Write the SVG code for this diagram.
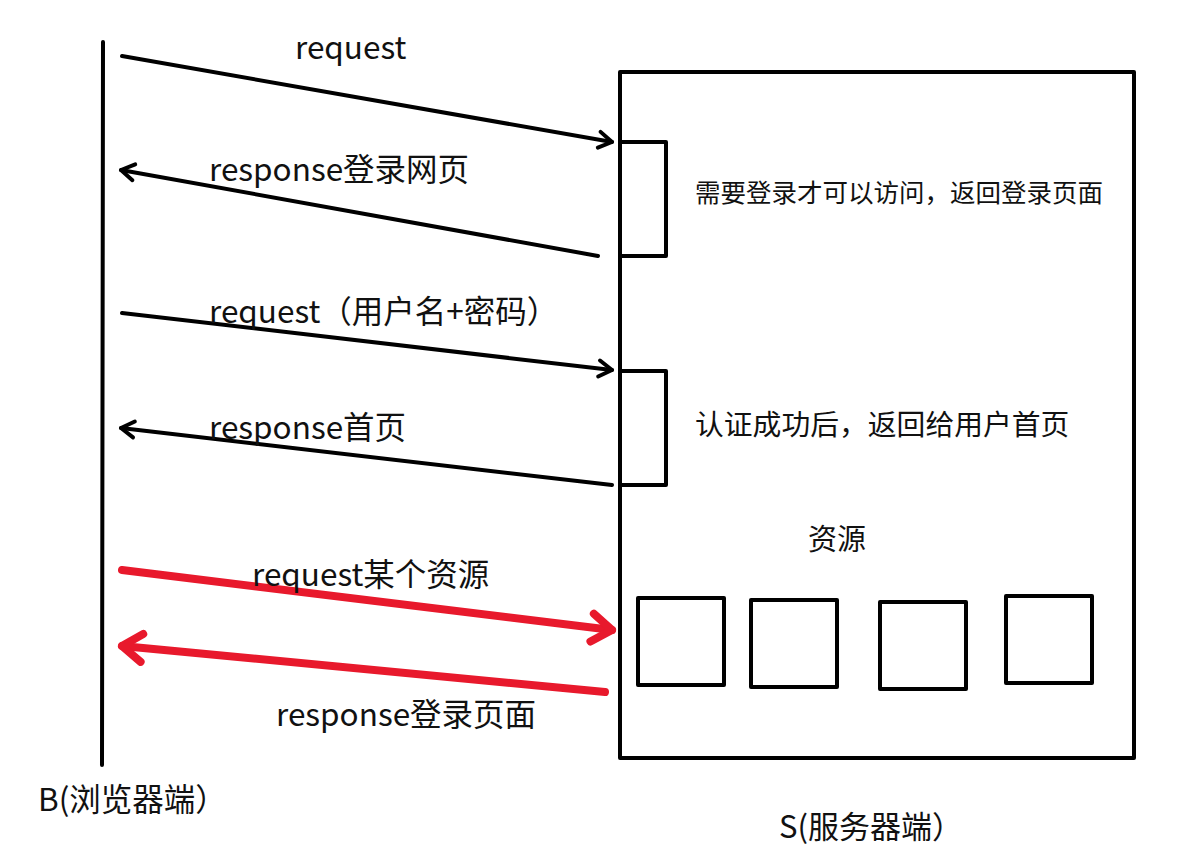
<svg xmlns="http://www.w3.org/2000/svg" width="1188" height="866" viewBox="0 0 1188 866">
<style>
text{font-family:"Noto Sans CJK SC","Microsoft YaHei",sans-serif;fill:#111}
.lbl{font-size:31.5px}
.box{fill:none;stroke:#000;stroke-width:4;stroke-linejoin:round}
.blk{stroke:#000;stroke-width:4;fill:none;stroke-linecap:round}
.red{stroke:#E8192C;stroke-width:8;fill:none;stroke-linecap:round}
</style>
<defs>
<marker id="ab" viewBox="0 0 24 24" refX="21" refY="12" markerWidth="24" markerHeight="24" markerUnits="userSpaceOnUse" orient="auto">
<polyline points="8,4 21,12 8,20" fill="none" stroke="#000" stroke-width="4" stroke-linecap="round" stroke-linejoin="round"/>
</marker>
<marker id="ar" viewBox="0 0 40 40" refX="34" refY="20" markerWidth="40" markerHeight="40" markerUnits="userSpaceOnUse" orient="auto">
<polyline points="14,6 34,20 14,34" fill="none" stroke="#E8192C" stroke-width="8" stroke-linecap="round" stroke-linejoin="round"/>
</marker>
</defs>
<g id="browser">
<line x1="103" y1="42" x2="102" y2="765" class="blk" stroke-width="4"/>
<text x="38" y="811" font-size="31.5">B(浏览器端）</text>
</g>
<g id="server">
<rect class="box" x="620" y="72" width="514" height="686"/>
<text x="779" y="838" font-size="31">S(服务器端）</text>
</g>
<g id="auth1">
<rect class="box" x="620" y="142" width="46" height="114"/>
<text x="695" y="202" font-size="25.5">需要登录才可以访问，返回登录页面</text>
</g>
<g id="auth2">
<rect class="box" x="620" y="371" width="46" height="114"/>
<text x="695" y="435" font-size="28.8">认证成功后，返回给用户首页</text>
</g>
<g id="resources">
<text x="808" y="550" font-size="29">资源</text>
<rect class="box" x="638" y="598" width="86" height="87"/>
<rect class="box" x="751" y="600" width="86" height="87"/>
<rect class="box" x="880" y="602" width="86" height="87"/>
<rect class="box" x="1006" y="596" width="86" height="87"/>
</g>
<g id="connectors">
<line class="blk" x1="122" y1="56" x2="612" y2="142" marker-end="url(#ab)"/>
<text class="lbl" x="295" y="59">request</text>
<line class="blk" x1="598" y1="256" x2="121" y2="170" marker-end="url(#ab)"/>
<text class="lbl" x="209" y="181">response登录网页</text>
<line class="blk" x1="122" y1="313" x2="612" y2="370" marker-end="url(#ab)"/>
<text class="lbl" x="209" y="323">request（用户名+密码）</text>
<line class="blk" x1="612" y1="485" x2="121" y2="428" marker-end="url(#ab)"/>
<text class="lbl" x="209" y="439">response首页</text>
<line class="red" x1="122" y1="570" x2="612" y2="630" marker-end="url(#ar)"/>
<text class="lbl" x="252" y="586">request某个资源</text>
<line class="red" x1="605" y1="692" x2="122" y2="646" marker-end="url(#ar)"/>
<text class="lbl" x="276" y="726">response登录页面</text>
</g>
</svg>
